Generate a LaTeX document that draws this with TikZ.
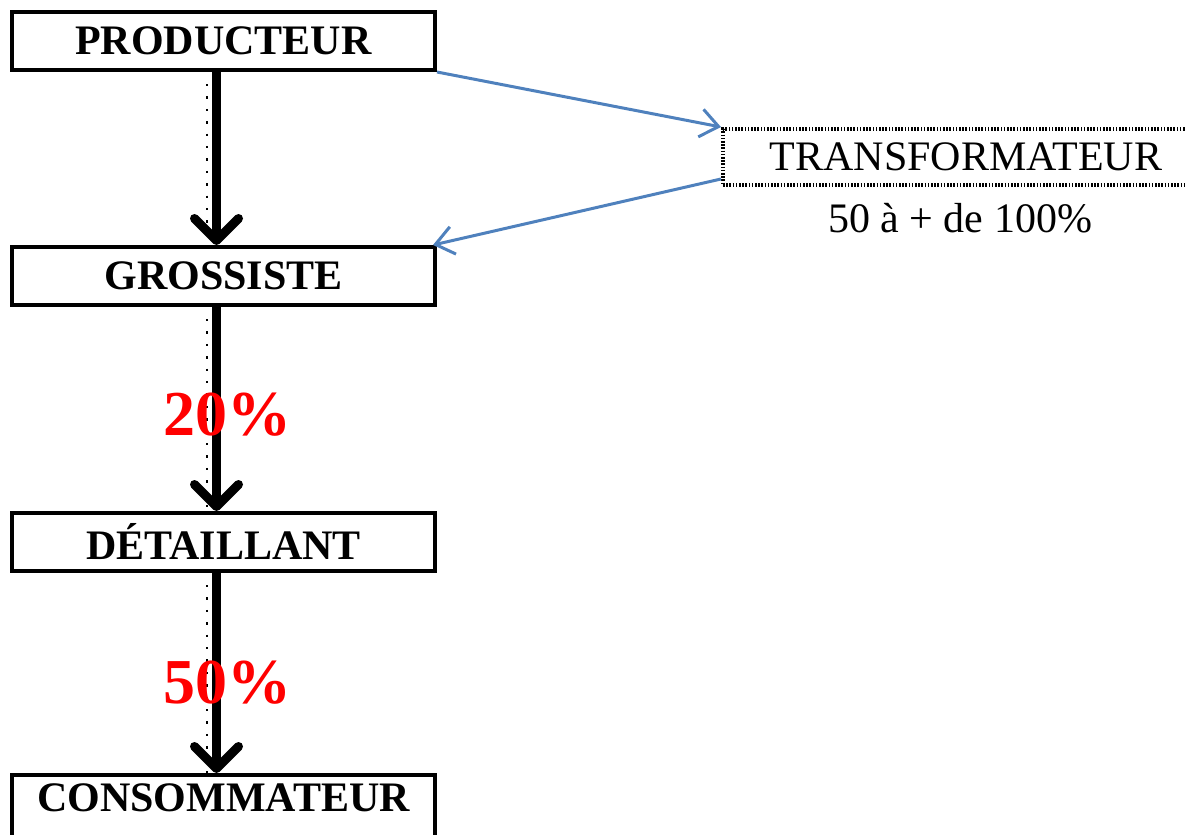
\documentclass[tikz,border=0pt]{standalone}
\usepackage{fontspec}
\setmainfont{Liberation Serif}
\usetikzlibrary{calc,arrows.meta}
\definecolor{bleu}{RGB}{79,129,189}

\begin{document}
\begin{tikzpicture}[x=0.5pt,y=-0.5pt,
    etape/.style={draw,line width=2pt,minimum width=211.5pt,minimum height=29pt,inner sep=0pt,font=\fontsize{21}{21}\selectfont\bfseries},
    flux/.style={line width=4.5pt,-{Straight Barb[length=11pt,width=22pt,round]}},
    trace/.style={line width=1.2pt,dash pattern=on 1.2pt off 5pt},
    marge/.style={red,font=\fontsize{32}{32}\selectfont\bfseries},
    renvoi/.style={bleu,line width=1.5pt,-{Straight Barb[length=9pt,width=14pt]}}]
    \useasboundingbox (0,0) rectangle (1185,835);
    \node[etape] (prod) at (223.5,41) {PRODUCTEUR};
    \node[etape] (gros) at (223.5,276) {GROSSISTE};
    \node[etape] (detail) at (223.5,542) {DÉTAILLANT};
    \node[etape,anchor=north,text height=18pt,text depth=18pt] (conso) at (223.5,773) {CONSOMMATEUR};
    \node[draw,line width=2pt,dash pattern=on 0.8pt off 0.8pt,minimum width=243pt,minimum height=28pt,inner sep=0pt,font=\fontsize{21}{21}\selectfont] (transf) at (966,157) {TRANSFORMATEUR};
    \node[font=\fontsize{21}{21}\selectfont] (taux) at (960,218) {50 à + de 100\%};
    \draw[trace] ([xshift=-8.25pt,yshift=-6pt]prod.south) -- ([xshift=-8.25pt,yshift=-3pt]gros.north);
    \draw[trace] ([xshift=-8.25pt,yshift=-6pt]gros.south) -- ([xshift=-8.25pt,yshift=-3pt]detail.north);
    \draw[trace] ([xshift=-8.25pt,yshift=-6pt]detail.south) -- ([xshift=-8.25pt,yshift=-3pt]conso.north);
    \draw[flux] ([xshift=-3.5pt]prod.south) -- ([xshift=-3.5pt]gros.north);
    \draw[flux] ([xshift=-3.5pt]gros.south) -- ([xshift=-3.5pt]detail.north);
    \draw[flux] ([xshift=-3.5pt]detail.south) -- ([xshift=-3.5pt]conso.north);
    \node[marge] (m1) at (227,415) {20\%};
    \node[marge] (m2) at (227,683) {50\%};
    \draw[renvoi] (prod.south east) -- (transf.north west);
    \draw[renvoi] ([yshift=4pt]transf.south west) -- ([xshift=-2pt]gros.north east);
\end{tikzpicture}
\end{document}
